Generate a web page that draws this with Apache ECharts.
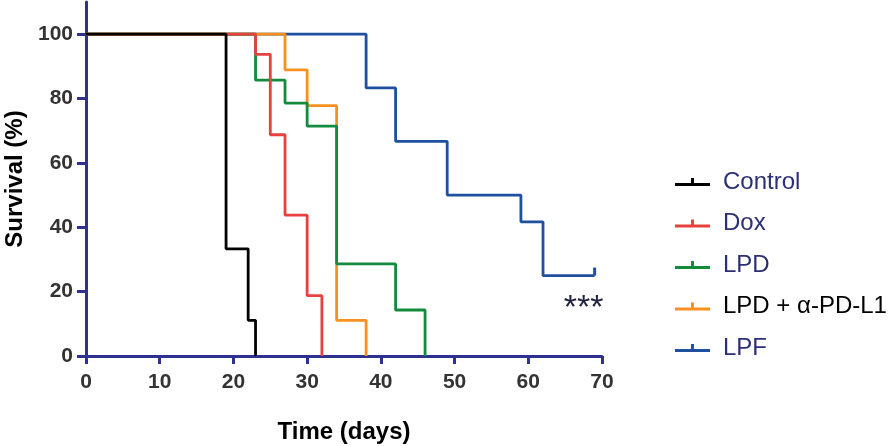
<!DOCTYPE html>
<html>
<head>
<meta charset="utf-8">
<script src="https://cdn.jsdelivr.net/npm/echarts@6/dist/echarts.min.js"></script>
<style>html,body{margin:0;padding:0;background:#fff}#c{width:895px;height:446px}</style>
</head>
<body>
<div id="c"></div>
<script>
// Kaplan-Meier step data: [time (days), survival (%) after event]
var seriesNames = ['Control', 'Dox', 'LPD', 'LPD + α-PD-L1', 'LPF'];
var controlT = [0, 19, 22, 23];
var controlS = [100, 33.3, 11.1, 0];
var doxT = [0, 23, 25, 27, 30, 32];
var doxS = [100, 93.75, 68.75, 43.75, 18.75, 0];
var lpdT = [0, 23, 27, 30, 34, 42, 46];
var lpdS = [100, 85.7, 78.6, 71.4, 28.6, 14.3, 0];
var lpdPdT = [0, 27, 30, 34, 38];
var lpdPdS = [100, 88.9, 77.8, 11.1, 0];
var lpfT = [0, 38, 42, 49, 59, 62, 69];
var lpfS = [100, 83.3, 66.7, 50, 41.7, 25, 25];
var xTicks = [0, 10, 20, 30, 40, 50, 60, 70];
var yTicks = [0, 20, 40, 60, 80, 100];
var sigLabel = '***';
var sigPos = [67.5, 14.8];

var colors = ['#000000', '#e8403f', '#138a3c', '#f7901e', '#1f4f9f'];
var axisColor = '#2e3192';
var font = 'Liberation Sans, Arial, Helvetica, sans-serif';

function pairs(t, s) { return t.map(function (v, i) { return [v, s[i]]; }); }
var censorIcon = 'path://M0,0 L1,0 L1,10 L0,10 Z';
var legendIcon = 'path://M0,5 L36,5 L36,8 L0,8 Z M16.5,0 L19.5,0 L19.5,5 L16.5,5 Z';

var lpfData = pairs(lpfT, lpfS);
lpfData[lpfData.length - 1] = {
  value: lpfData[lpfData.length - 1],
  symbol: censorIcon, symbolSize: [3, 8], symbolOffset: [0, -4]
};

var datas = [pairs(controlT, controlS), pairs(doxT, doxS), pairs(lpdT, lpdS), pairs(lpdPdT, lpdPdS), lpfData];
var zs = [6, 5, 4, 3, 2];

var series = seriesNames.map(function (n, i) {
  var s = {
    name: n, type: 'line', step: 'end', data: datas[i],
    symbol: 'none', z: zs[i],
    color: colors[i],
    itemStyle: { color: colors[i] },
    lineStyle: { color: colors[i], width: 2.8 },
    emphasis: { disabled: true }, animation: false
  };
  if (i === 4) {
    s.markPoint = {
      symbol: 'circle', symbolSize: 0, silent: true, animation: false,
      label: { show: true, formatter: sigLabel, color: '#23253f', fontSize: 34, fontFamily: font, position: 'inside' },
      data: [{ coord: sigPos }]
    };
  }
  return s;
});

var legendTextColors = ['#2b2f73', '#2b2f73', '#2b2f73', '#000000', '#2b2f73'];

var chart = echarts.init(document.getElementById('c'), null, { renderer: 'canvas' });
chart.setOption({
  animation: false,
  backgroundColor: '#fff',
  grid: { left: 86, right: 293, top: 2, bottom: 90, containLabel: false, outerBoundsMode: 'none' },
  legend: {
    orient: 'vertical', left: 670, top: 165, itemGap: 17.5,
    itemWidth: 35, itemHeight: 8, icon: legendIcon,
    itemStyle: { borderWidth: 0 },
    textStyle: { fontFamily: font, fontSize: 24, lineHeight: 24, padding: [0, 0, 0, 8] },
    data: seriesNames.map(function (n, i) { return { name: n, textStyle: { color: legendTextColors[i] } }; }),
    selectedMode: false
  },
  xAxis: {
    type: 'value', min: 0, max: 70, interval: 10,
    name: 'Time (days)', nameLocation: 'middle', nameGap: 64,
    nameTextStyle: { fontFamily: font, fontSize: 24, fontWeight: 'bold', color: '#000' },
    axisLine: { show: true, lineStyle: { color: axisColor, width: 3 } },
    axisTick: { show: true, length: 8, lineStyle: { color: axisColor, width: 3 } },
    axisLabel: { fontFamily: font, fontSize: 21, fontWeight: 'bold', color: '#333', margin: 16,
      customValues: xTicks },
    splitLine: { show: false }
  },
  yAxis: {
    type: 'value', min: 0, max: 110,
    name: 'Survival (%)', nameLocation: 'middle', nameGap: 57, nameRotate: 90,
    nameTextStyle: { fontFamily: font, fontSize: 24, fontWeight: 'bold', color: '#000' },
    axisLine: { show: true, lineStyle: { color: axisColor, width: 3 } },
    axisTick: { show: true, length: 9, lineStyle: { color: axisColor, width: 3 }, customValues: yTicks },
    axisLabel: { fontFamily: font, fontSize: 21, fontWeight: 'bold', color: '#333', margin: 13,
      customValues: yTicks },
    splitLine: { show: false }
  },
  series: series
});
</script>
</body>
</html>
